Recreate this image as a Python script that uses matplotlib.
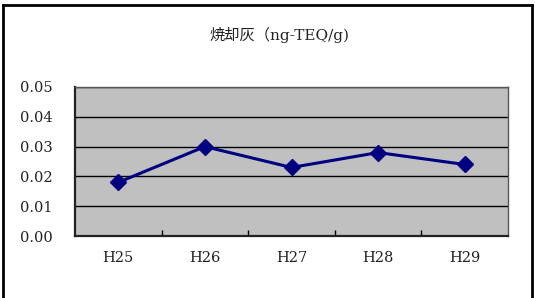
import matplotlib
matplotlib.use("Agg")
import matplotlib.pyplot as plt
from matplotlib.lines import Line2D
from matplotlib.ticker import FixedLocator

plt.rcParams["font.family"] = ["DejaVu Serif", "Noto Sans CJK JP", "DejaVu Sans"]

years = ["H25", "H26", "H27", "H28", "H29"]
values = [0.018, 0.030, 0.023, 0.028, 0.024]
y_ticks = [0.00, 0.01, 0.02, 0.03, 0.04, 0.05]
title = "焼却灰（ng-TEQ/g)"

fig = plt.figure(figsize=(5.35, 2.98), dpi=100)
ax = fig.add_axes([75 / 535, 62 / 298, 433 / 535, 149 / 298])
ax.set_facecolor("#C0C0C0")

x = list(range(len(years)))
ax.plot(x, values, color="#000080", linewidth=2.2, marker="D",
        markersize=8, markerfacecolor="#000080", markeredgecolor="#000080",
        zorder=3)

ax.set_xlim(-0.5, len(years) - 0.5)
ax.set_ylim(0, 0.05)
ax.set_yticks(y_ticks)
ax.set_yticklabels([f"{v:.2f}" for v in y_ticks])
ax.yaxis.grid(True, color="black", linewidth=1.0)
ax.set_axisbelow(True)

ax.set_xticks(x)
ax.set_xticklabels(years)
ax.xaxis.set_minor_locator(FixedLocator([i + 0.5 for i in x[:-1]]))
ax.tick_params(axis="x", which="major", length=0, pad=11, labelsize=10.5,
               labelcolor="#222222")
ax.tick_params(axis="x", which="minor", direction="in", length=4, width=1.0)
ax.tick_params(axis="y", length=0, pad=16, labelsize=10.5, labelcolor="#222222")

for side in ["left", "bottom"]:
    ax.spines[side].set_color("#222222")
    ax.spines[side].set_linewidth(1.6)
for side in ["right", "top"]:
    ax.spines[side].set_color("#555555")
    ax.spines[side].set_linewidth(1.0)

fig.text(279 / 535, 1 - 35 / 298, title, ha="center", va="center",
         fontsize=11, color="#222222")

# chart-area frame
lw = 2.0
fig.add_artist(Line2D([3 / 535, 3 / 535], [0, 1 - 5 / 298], color="black", linewidth=lw))
fig.add_artist(Line2D([532 / 535, 532 / 535], [0, 1 - 5 / 298], color="black", linewidth=lw))
fig.add_artist(Line2D([3 / 535, 532 / 535], [1 - 5 / 298, 1 - 5 / 298], color="black", linewidth=lw))

fig.savefig("out.png", dpi=100)
